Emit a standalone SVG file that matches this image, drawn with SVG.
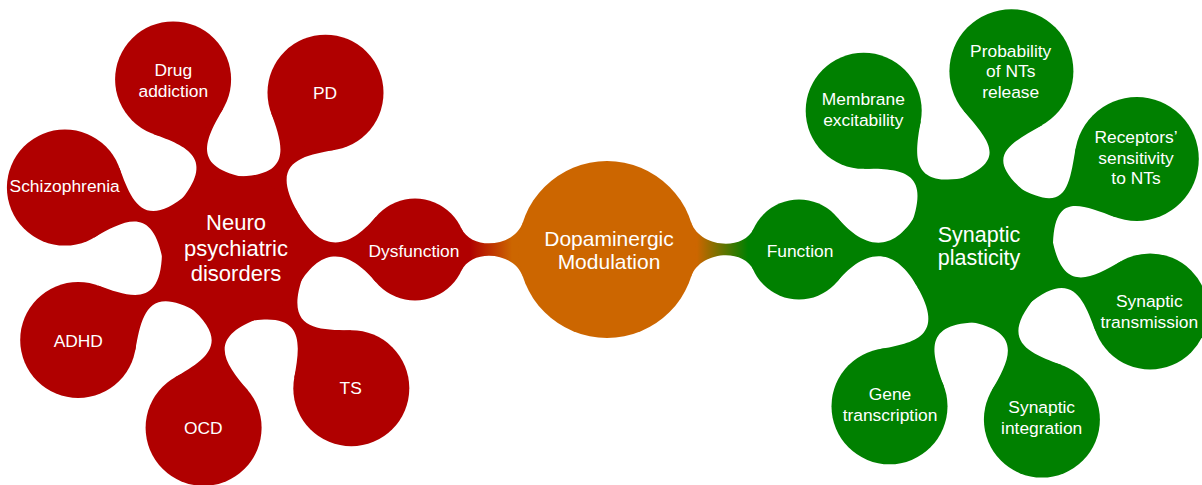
<svg xmlns="http://www.w3.org/2000/svg" xmlns:xlink="http://www.w3.org/1999/xlink" width="1202" height="485" viewBox="0 0 1202 485">
<style>
.red{fill:#B00000}
.orange{fill:#CC6600}
.green{fill:#008000}
text{font-family:"Liberation Sans",Arial,sans-serif;fill:#ffffff;text-anchor:middle}
.s{font-size:17.4px}
.hubL{font-size:22px}
.hubC{font-size:21px}
.hubR{font-size:21.5px}
</style>
<defs>
<path id="br58" d="M63.2,36.5 C92.2,-14 113.5,9.7 136.6,37.3 L136.6,-37.3 C113.5,-9.7 92.2,14 63.2,-36.5 Z"/>
<path id="br62" d="M63.2,36.5 C92.2,-14 108.4,10 133.5,39.9 L133.5,-39.9 C108.4,-10 92.2,14 63.2,-36.5 Z"/>
<path id="br51" d="M63.2,36.5 C92.2,-14 122.9,11.4 140.9,32.8 L140.9,-32.8 C122.9,-11.4 92.2,14 63.2,-36.5 Z"/>
<path id="br50" d="M63.2,36.5 C92.2,-14 124.7,10.7 142.7,32.1 L142.7,-32.1 C124.7,-10.7 92.2,14 63.2,-36.5 Z"/>
<linearGradient id="gRO" gradientUnits="userSpaceOnUse" x1="470" y1="0" x2="512" y2="0">
<stop offset="0" stop-color="#B00000"/><stop offset="1" stop-color="#CC6600"/>
</linearGradient>
<linearGradient id="gOG" gradientUnits="userSpaceOnUse" x1="697" y1="0" x2="748" y2="0">
<stop offset="0" stop-color="#CC6600"/><stop offset="1" stop-color="#008000"/>
</linearGradient>
</defs>
<g id="connectors">
<g class="red" transform="translate(235,249.5)">
<use xlink:href="#br58" href="#br58" transform="rotate(50)"/>
<use xlink:href="#br58" href="#br58" transform="rotate(100)"/>
<use xlink:href="#br58" href="#br58" transform="rotate(150)"/>
<use xlink:href="#br58" href="#br58" transform="rotate(200)"/>
<use xlink:href="#br58" href="#br58" transform="rotate(250)"/>
<use xlink:href="#br58" href="#br58" transform="rotate(300)"/>
<use xlink:href="#br51" href="#br51" transform="rotate(0)"/>
</g>
<g class="green" transform="translate(980,249.5)">
<use xlink:href="#br58" href="#br58" transform="rotate(230)"/>
<use xlink:href="#br62" href="#br62" transform="rotate(280)"/>
<use xlink:href="#br62" href="#br62" transform="rotate(330)"/>
<use xlink:href="#br58" href="#br58" transform="rotate(20)"/>
<use xlink:href="#br58" href="#br58" transform="rotate(70)"/>
<use xlink:href="#br58" href="#br58" transform="rotate(120)"/>
<use xlink:href="#br50" href="#br50" transform="rotate(180)"/>
</g>
<path fill="url(#gRO)" d="M461.2,227.9 C472.2,251.5 514.8,246.9 522.8,222.2 L522.8,276.8 C514.8,252.1 472.2,247.5 461.2,271.1 Z"/>
<path fill="url(#gOG)" d="M691.2,222.2 C699.2,246.9 742.7,252 753.7,228.4 L753.7,270.6 C742.7,247 699.2,252.1 691.2,276.8 Z"/>
</g>
<g id="node-dopaminergic">
<circle class="orange" cx="607" cy="249.5" r="88.5"/>
<text class="hubC" x="609" y="245.5">Dopaminergic</text>
<text class="hubC" x="609" y="268.5">Modulation</text>
</g>
<g id="node-dysfunction">
<circle class="red" cx="415" cy="249.5" r="51"/>
<text class="s" x="414" y="256.7">Dysfunction</text>
</g>
<g id="node-neuro">
<circle class="red" cx="235" cy="249.5" r="73"/>
<text class="hubL" x="236" y="230">Neuro</text>
<text class="hubL" x="236" y="255.7">psychiatric</text>
<text class="hubL" x="236" y="281.3">disorders</text>
</g>
<g id="node-drug">
<circle class="red" cx="173.1" cy="79.4" r="58"/>
<text class="s" x="173.3" y="76">Drug</text>
<text class="s" x="173.3" y="96.7">addiction</text>
</g>
<g id="node-pd">
<circle class="red" cx="325.5" cy="92.7" r="58"/>
<text class="s" x="325" y="99">PD</text>
</g>
<g id="node-schizophrenia">
<circle class="red" cx="64.9" cy="187.6" r="58"/>
<text class="s" x="64.7" y="192.3">Schizophrenia</text>
</g>
<g id="node-adhd">
<circle class="red" cx="78.2" cy="340" r="58"/>
<text class="s" x="78.3" y="346.7">ADHD</text>
</g>
<g id="node-ocd">
<circle class="red" cx="203.6" cy="427.8" r="58"/>
<text class="s" x="203.3" y="434.3">OCD</text>
</g>
<g id="node-ts">
<circle class="red" cx="351.3" cy="388.2" r="58"/>
<text class="s" x="350.7" y="394.3">TS</text>
</g>
<g id="node-function">
<circle class="green" cx="799" cy="249.5" r="50"/>
<text class="s" x="800" y="256.5">Function</text>
</g>
<g id="node-synaptic-plasticity">
<circle class="green" cx="980" cy="249.5" r="73"/>
<text class="hubR" x="979" y="241.7">Synaptic</text>
<text class="hubR" x="979" y="265">plasticity</text>
</g>
<g id="node-membrane">
<circle class="green" cx="863.7" cy="110.8" r="58"/>
<text class="s" x="863.3" y="105">Membrane</text>
<text class="s" x="863.3" y="126">excitability</text>
</g>
<g id="node-probability">
<circle class="green" cx="1011.4" cy="71.2" r="62"/>
<text class="s" x="1010.7" y="57.3">Probability</text>
<text class="s" x="1010.7" y="77.3">of NTs</text>
<text class="s" x="1010.7" y="98.3">release</text>
</g>
<g id="node-receptors">
<circle class="green" cx="1136.8" cy="159" r="62"/>
<text class="s" x="1136" y="143.3">Receptors’</text>
<text class="s" x="1136" y="164">sensitivity</text>
<text class="s" x="1136" y="184">to NTs</text>
</g>
<g id="node-transmission">
<circle class="green" cx="1150.1" cy="311.4" r="58"/>
<text class="s" x="1149.3" y="307.3">Synaptic</text>
<text class="s" x="1149.3" y="328.3">transmission</text>
</g>
<g id="node-integration">
<circle class="green" cx="1041.9" cy="419.6" r="58"/>
<text class="s" x="1041.7" y="413.3">Synaptic</text>
<text class="s" x="1041.7" y="434">integration</text>
</g>
<g id="node-gene">
<circle class="green" cx="889.5" cy="406.3" r="58"/>
<text class="s" x="890" y="400">Gene</text>
<text class="s" x="890" y="420.7">transcription</text>
</g>
</svg>
